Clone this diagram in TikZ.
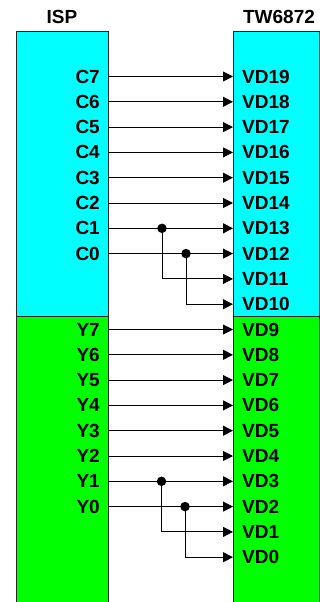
\documentclass[tikz,border=0pt]{standalone}
\usepackage{fontspec}
\setmainfont{Liberation Sans}
\usetikzlibrary{arrows.meta}
\definecolor{cyanfill}{RGB}{0,255,255}
\definecolor{greenfill}{RGB}{0,255,0}
\begin{document}
\begin{tikzpicture}[x=1pt,y=-1pt,
  box/.style={draw=black!85,line width=0.8pt},
  lbl/.style={font=\fontsize{19}{22}\selectfont\bfseries, inner sep=0pt},
  sig/.style={line width=0.9pt,-{Triangle[length=10pt,width=10pt]}},
  jdot/.style={circle,fill=black,inner sep=0pt,minimum size=9.5pt}]
\useasboundingbox (0,0) rectangle (320,602);
% boxes
\fill[cyanfill] (16.5,31) rectangle (108,316);
\fill[greenfill] (16.5,316) rectangle (108,606);
\fill[cyanfill] (233,31) rectangle (319.5,316);
\fill[greenfill] (233,316) rectangle (319.5,606);
\draw[box] (16.5,606) -- (16.5,31) -- (108,31) -- (108,606);
\draw[box] (16.5,316) -- (108,316);
\draw[box] (233,606) -- (233,31) -- (319.5,31) -- (319.5,606);
\draw[box] (233,316) -- (319.5,316);
% titles
\node[lbl] (isp) at (62,16.5) {ISP};
\node[lbl] (tw) at (279,16.5) {TW6872};
% right side pins
\foreach \k in {0,...,19} {
  \pgfmathsetmacro\yy{76.5+25.3*\k}
  \pgfmathtruncatemacro\n{19-\k}
  \node[lbl,anchor=west] (VD\n) at (242,\yy) {VD\n};
  \coordinate (in\n) at (233,\yy);
}
% left side pins
\foreach \nm/\k in {C7/0,C6/1,C5/2,C4/3,C3/4,C2/5,C1/6,C0/7,Y7/10,Y6/11,Y5/12,Y4/13,Y3/14,Y2/15,Y1/16,Y0/17} {
  \pgfmathsetmacro\yy{76.5+25.3*\k}
  \node[lbl,anchor=east] (\nm) at (100,\yy) {\nm};
  \coordinate (out\nm) at (108,\yy);
}
% direct connections
\foreach \a/\b in {C7/19,C6/18,C5/17,C4/16,C3/15,C2/14,C1/13,C0/12,Y7/9,Y6/8,Y5/7,Y4/6,Y3/5,Y2/4,Y1/3,Y0/2} {
  \draw[sig] (out\a) -- (in\b);
}
% junctions
\path (outC1) -- ++(54,0) node[jdot] (jC1) {};
\path (outC0) -- ++(78,0) node[jdot] (jC0) {};
\path (outY1) -- ++(53.5,0) node[jdot] (jY1) {};
\path (outY0) -- ++(77,0) node[jdot] (jY0) {};
\draw[sig] (jC1.center) |- (in11);
\draw[sig] (jC0.center) |- (in10);
\draw[sig] (jY1.center) |- (in1);
\draw[sig] (jY0.center) |- (in0);
\end{tikzpicture}
\end{document}
